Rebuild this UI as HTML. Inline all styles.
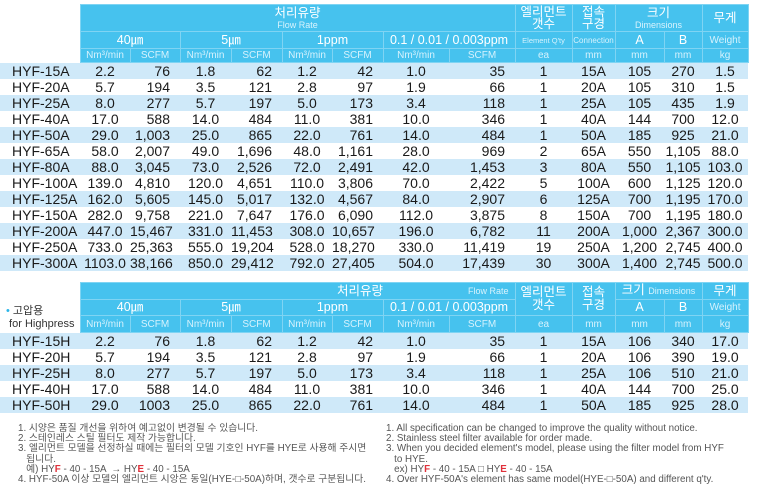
<!DOCTYPE html>
<html><head><meta charset="utf-8"><style>
body{margin:0;width:764px;height:489px;background:#fff;font-family:"Liberation Sans","Noto Sans CJK KR",sans-serif;position:relative;overflow:hidden}
table{position:absolute;left:0;border-collapse:collapse;table-layout:fixed;width:748px}
td{padding:0;text-align:center;font-size:14px;color:#1a1a1a;white-space:nowrap;overflow:hidden;line-height:16px;height:16px}
td.m{text-align:left;padding-left:12px;font-size:14px}
td.r{text-align:right;padding-right:10px}
tr.s td{background:#cfe9f9}
th{background:#46c2ee;color:#fff;font-weight:normal;padding:0;border:1px solid #7fd4f3;font-size:12.5px;line-height:13px;overflow:hidden;white-space:nowrap}
th.e{background:transparent;border:none}
th small{display:block;font-size:9px;color:#d8f3fd;line-height:10px}
th.u{font-size:10px;color:#d6f2fd}
.notes{position:absolute;font-size:9.8px;color:#555;line-height:10.2px;white-space:nowrap}
.notes b{color:#e0303a;font-weight:bold}
</style></head><body>
<table style="top:4px">
<colgroup><col style="width:80px"><col style="width:50px"><col style="width:50px"><col style="width:51px"><col style="width:51px"><col style="width:50px"><col style="width:51px"><col style="width:66px"><col style="width:66px"><col style="width:57px"><col style="width:43px"><col style="width:49px"><col style="width:38px"><col style="width:46px"></colgroup>
<tr style="height:27px"><th class="e"></th><th colspan="8" style="border-right:none">처리유량<small>Flow Rate</small></th><th rowspan="1" style="line-height:12px">엘리먼트<br>갯수</th><th style="line-height:12px">접속<br>구경</th><th colspan="2">크기<small>Dimensions</small></th><th>무게</th></tr>
<tr style="height:17px"><th class="e"></th><th colspan="2">40㎛</th><th colspan="2">5㎛</th><th colspan="2">1ppm</th><th colspan="2">0.1 / 0.01 / 0.003ppm</th><th class="u" style="font-size:7.5px">Element Q'ty</th><th class="u" style="font-size:8px">Connection</th><th>A</th><th>B</th><th class="u">Weight</th></tr>
<tr style="height:14px"><th class="e"></th><th class="u">Nm³/min</th><th class="u">SCFM</th><th class="u">Nm³/min</th><th class="u">SCFM</th><th class="u">Nm³/min</th><th class="u">SCFM</th><th class="u">Nm³/min</th><th class="u">SCFM</th><th class="u">ea</th><th class="u">mm</th><th class="u">mm</th><th class="u">mm</th><th class="u">kg</th></tr>
<tr class="s"><td class="m">HYF-15A</td><td>2.2</td><td class="r">76</td><td>1.8</td><td class="r">62</td><td>1.2</td><td class="r">42</td><td>1.0</td><td class="r">35</td><td>1</td><td>15A</td><td>105</td><td>270</td><td>1.5</td></tr>
<tr><td class="m">HYF-20A</td><td>5.7</td><td class="r">194</td><td>3.5</td><td class="r">121</td><td>2.8</td><td class="r">97</td><td>1.9</td><td class="r">66</td><td>1</td><td>20A</td><td>105</td><td>310</td><td>1.5</td></tr>
<tr class="s"><td class="m">HYF-25A</td><td>8.0</td><td class="r">277</td><td>5.7</td><td class="r">197</td><td>5.0</td><td class="r">173</td><td>3.4</td><td class="r">118</td><td>1</td><td>25A</td><td>105</td><td>435</td><td>1.9</td></tr>
<tr><td class="m">HYF-40A</td><td>17.0</td><td class="r">588</td><td>14.0</td><td class="r">484</td><td>11.0</td><td class="r">381</td><td>10.0</td><td class="r">346</td><td>1</td><td>40A</td><td>144</td><td>700</td><td>12.0</td></tr>
<tr class="s"><td class="m">HYF-50A</td><td>29.0</td><td class="r">1,003</td><td>25.0</td><td class="r">865</td><td>22.0</td><td class="r">761</td><td>14.0</td><td class="r">484</td><td>1</td><td>50A</td><td>185</td><td>925</td><td>21.0</td></tr>
<tr><td class="m">HYF-65A</td><td>58.0</td><td class="r">2,007</td><td>49.0</td><td class="r">1,696</td><td>48.0</td><td class="r">1,161</td><td>28.0</td><td class="r">969</td><td>2</td><td>65A</td><td>550</td><td>1,105</td><td>88.0</td></tr>
<tr class="s"><td class="m">HYF-80A</td><td>88.0</td><td class="r">3,045</td><td>73.0</td><td class="r">2,526</td><td>72.0</td><td class="r">2,491</td><td>42.0</td><td class="r">1,453</td><td>3</td><td>80A</td><td>550</td><td>1,105</td><td>103.0</td></tr>
<tr><td class="m">HYF-100A</td><td>139.0</td><td class="r">4,810</td><td>120.0</td><td class="r">4,651</td><td>110.0</td><td class="r">3,806</td><td>70.0</td><td class="r">2,422</td><td>5</td><td>100A</td><td>600</td><td>1,125</td><td>120.0</td></tr>
<tr class="s"><td class="m">HYF-125A</td><td>162.0</td><td class="r">5,605</td><td>145.0</td><td class="r">5,017</td><td>132.0</td><td class="r">4,567</td><td>84.0</td><td class="r">2,907</td><td>6</td><td>125A</td><td>700</td><td>1,195</td><td>170.0</td></tr>
<tr><td class="m">HYF-150A</td><td>282.0</td><td class="r">9,758</td><td>221.0</td><td class="r">7,647</td><td>176.0</td><td class="r">6,090</td><td>112.0</td><td class="r">3,875</td><td>8</td><td>150A</td><td>700</td><td>1,195</td><td>180.0</td></tr>
<tr class="s"><td class="m">HYF-200A</td><td>447.0</td><td class="r">15,467</td><td>331.0</td><td class="r">11,453</td><td>308.0</td><td class="r">10,657</td><td>196.0</td><td class="r">6,782</td><td>11</td><td>200A</td><td>1,000</td><td>2,367</td><td>300.0</td></tr>
<tr><td class="m">HYF-250A</td><td>733.0</td><td class="r">25,363</td><td>555.0</td><td class="r">19,204</td><td>528.0</td><td class="r">18,270</td><td>330.0</td><td class="r">11,419</td><td>19</td><td>250A</td><td>1,200</td><td>2,745</td><td>400.0</td></tr>
<tr class="s"><td class="m">HYF-300A</td><td>1103.0</td><td class="r">38,166</td><td>850.0</td><td class="r">29,412</td><td>792.0</td><td class="r">27,405</td><td>504.0</td><td class="r">17,439</td><td>30</td><td>300A</td><td>1,400</td><td>2,745</td><td>500.0</td></tr>
</table>

<div style="position:absolute;left:6px;top:305px;font-size:11px;color:#333;line-height:13px"><span style="color:#2bb5e8">•</span> 고압용<br>&nbsp;for Highpress</div>

<table style="top:282px">
<colgroup><col style="width:80px"><col style="width:50px"><col style="width:50px"><col style="width:51px"><col style="width:51px"><col style="width:50px"><col style="width:51px"><col style="width:66px"><col style="width:66px"><col style="width:57px"><col style="width:43px"><col style="width:49px"><col style="width:38px"><col style="width:46px"></colgroup>
<tr style="height:17px"><th class="e"></th><th colspan="6" style="border-right:none;text-align:right;padding-right:0">처리유량</th><th colspan="2" style="border-left:none;text-align:right;padding-right:6px;font-size:9px;color:#d8f3fd">Flow Rate</th><th rowspan="2" style="line-height:13px">엘리먼트<br>갯수</th><th rowspan="2" style="line-height:13px">접속<br>구경</th><th colspan="2">크기 <span style="font-size:9px;color:#d8f3fd">Dimensions</span></th><th>무게</th></tr>
<tr style="height:16px"><th class="e"></th><th colspan="2">40㎛</th><th colspan="2">5㎛</th><th colspan="2">1ppm</th><th colspan="2">0.1 / 0.01 / 0.003ppm</th><th>A</th><th>B</th><th class="u">Weight</th></tr>
<tr style="height:17px"><th class="e"></th><th class="u">Nm³/min</th><th class="u">SCFM</th><th class="u">Nm³/min</th><th class="u">SCFM</th><th class="u">Nm³/min</th><th class="u">SCFM</th><th class="u">Nm³/min</th><th class="u">SCFM</th><th class="u">ea</th><th class="u">mm</th><th class="u">mm</th><th class="u">mm</th><th class="u">kg</th></tr>
<tr class="s"><td class="m">HYF-15H</td><td>2.2</td><td class="r">76</td><td>1.8</td><td class="r">62</td><td>1.2</td><td class="r">42</td><td>1.0</td><td class="r">35</td><td>1</td><td>15A</td><td>106</td><td>340</td><td>17.0</td></tr>
<tr><td class="m">HYF-20H</td><td>5.7</td><td class="r">194</td><td>3.5</td><td class="r">121</td><td>2.8</td><td class="r">97</td><td>1.9</td><td class="r">66</td><td>1</td><td>20A</td><td>106</td><td>390</td><td>19.0</td></tr>
<tr class="s"><td class="m">HYF-25H</td><td>8.0</td><td class="r">277</td><td>5.7</td><td class="r">197</td><td>5.0</td><td class="r">173</td><td>3.4</td><td class="r">118</td><td>1</td><td>25A</td><td>106</td><td>510</td><td>21.0</td></tr>
<tr><td class="m">HYF-40H</td><td>17.0</td><td class="r">588</td><td>14.0</td><td class="r">484</td><td>11.0</td><td class="r">381</td><td>10.0</td><td class="r">346</td><td>1</td><td>40A</td><td>144</td><td>700</td><td>25.0</td></tr>
<tr class="s"><td class="m">HYF-50H</td><td>29.0</td><td class="r">1003</td><td>25.0</td><td class="r">865</td><td>22.0</td><td class="r">761</td><td>14.0</td><td class="r">484</td><td>1</td><td>50A</td><td>185</td><td>925</td><td>28.0</td></tr>
</table>

<div class="notes" style="left:18px;top:424px">1. 시양은 품질 개선을 위하여 예고없이 변경될 수 있습니다.<br>2. 스테인레스 스틸 필터도 제작 가능합니다.<br>3. 엘리먼트 모델을 선정하실 때에는 필터의 모델 기호인 HYF를 HYE로 사용해 주시면<br>&nbsp;&nbsp;&nbsp;됩니다.<br>&nbsp;&nbsp;&nbsp;예) HY<b>F</b> - 40 - 15A &nbsp;→ HY<b>E</b> - 40 - 15A<br>4. HYF-50A 이상 모델의 엘리먼트 시앙은 동일(HYE-□-50A)하며, 갯수로 구분됩니다.</div>
<div class="notes" style="left:386px;top:424px">1. All specification can be changed to improve the quality without notice.<br>2. Stainless steel filter available for order made.<br>3. When you decided element's model, please using the filter model from HYF<br>&nbsp;&nbsp;&nbsp;to HYE.<br>&nbsp;&nbsp;&nbsp;ex) HY<b>F</b> - 40 - 15A □ HY<b>E</b> - 40 - 15A<br>4. Over HYF-50A's element has same model(HYE-□-50A) and different q'ty.</div>
</body></html>
